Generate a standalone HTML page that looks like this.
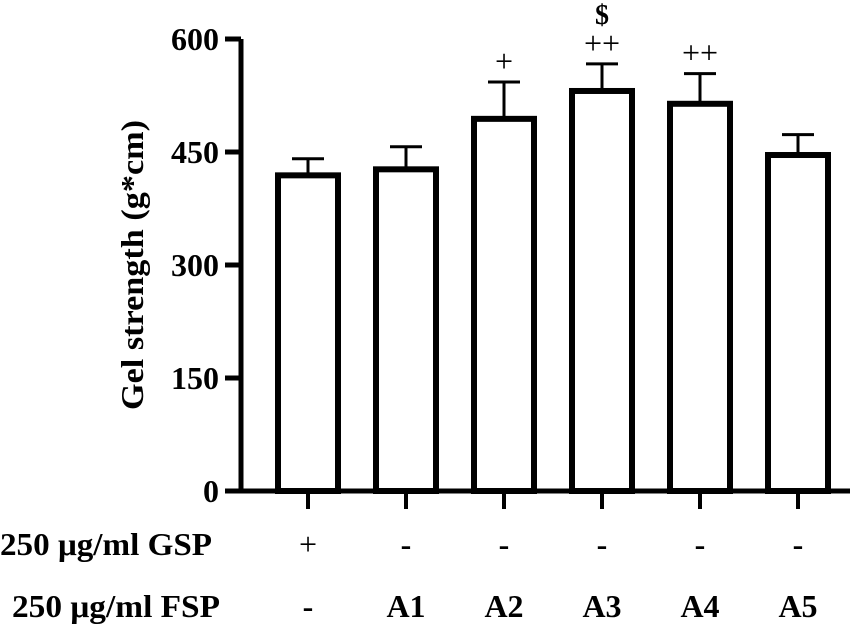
<!DOCTYPE html>
<html><head><meta charset="utf-8"><style>
body{margin:0;background:#fff;}
svg text{font-family:"Liberation Serif",serif;font-weight:bold;fill:#000;}
</style></head><body>
<svg width="868" height="626">
<g id="g"></g>
</svg>
<script>
const categories=["GSP","A1","A2","A3","A4","A5"];
const means=[419,427,494,531,514,446];
const errTops=[441,457,543,567,554,473];
const gspRow=["+","-","-","-","-","-"];
const fspRow=["-","A1","A2","A3","A4","A5"];
const sigLabels=["","","+","++","++",""];
const dollarLabels=["","","","$","",""];
const yTicks=[0,150,300,450,600];
const ns="http://www.w3.org/2000/svg";
const g=document.getElementById('g');
const y0=491,x0=241,ppu=(491-39)/600;
const y=v=>y0-v*ppu;
const xc=i=>308+i*98;
function el(t,a){const e=document.createElementNS(ns,t);for(const k in a)e.setAttribute(k,a[k]);g.appendChild(e);return e;}
let ax=el('path',{d:`M${x0} ${y(600)} V${y0} H850`,stroke:'#000','stroke-width':5,fill:'none'});


yTicks.forEach(t=>{
 let l=el('line',{x1:x0-16,x2:x0,y1:y(t),y2:y(t),stroke:'#000','stroke-width':5});
 
 
 let tx=el('text',{x:x0-22,y:y(t)+11,'text-anchor':'end','font-size':32});
 tx.textContent=t;
 
 
});
categories.forEach((c,i)=>{
 const cx=xc(i),w=60;
 let tk=el('line',{x1:cx,x2:cx,y1:y0,y2:y0+18,stroke:'#000','stroke-width':4});
 
 
 let eb=el('path',{d:`M${cx} ${y(means[i])} V${y(errTops[i])} M${cx-16} ${y(errTops[i])} H${cx+16}`,stroke:'#000','stroke-width':3,fill:'none'});
 
 
 let b=el('rect',{x:cx-w/2,y:y(means[i]),width:w,height:y0-y(means[i]),fill:'#fff',stroke:'#000','stroke-width':6});
 
 
 if(sigLabels[i]){let s=el('text',{x:cx,y:y(errTops[i])-10,'text-anchor':'middle','font-size':32,style:'font-weight:normal'});
  s.textContent=sigLabels[i];
  
  }
 if(dollarLabels[i]){let s=el('text',{x:cx,y:y(errTops[i])-40,'text-anchor':'middle','font-size':28});
  s.textContent=dollarLabels[i];
  
  }
 let r1=el('text',{x:cx,y:555,'text-anchor':'middle','font-size':32,style:gspRow[i]=='+'?'font-weight:normal':''});
 r1.textContent=gspRow[i];
 
 
 let r2=el('text',{x:cx,y:617,'text-anchor':'middle','font-size':32});
 r2.textContent=fspRow[i];
 
 
});
let l1=el('text',{x:0,y:555,'font-size':32,textLength:212,lengthAdjust:'spacingAndGlyphs'});l1.textContent="250 μg/ml GSP";


let l2=el('text',{x:12,y:617,'font-size':32,textLength:208,lengthAdjust:'spacingAndGlyphs'});l2.textContent="250 μg/ml FSP";


let yt=el('text',{x:0,y:0,'text-anchor':'middle','font-size':32,textLength:290,lengthAdjust:'spacingAndGlyphs',transform:'translate(143,265) rotate(-90)'});
yt.textContent="Gel strength (g*cm)";


</script>
</body></html>
